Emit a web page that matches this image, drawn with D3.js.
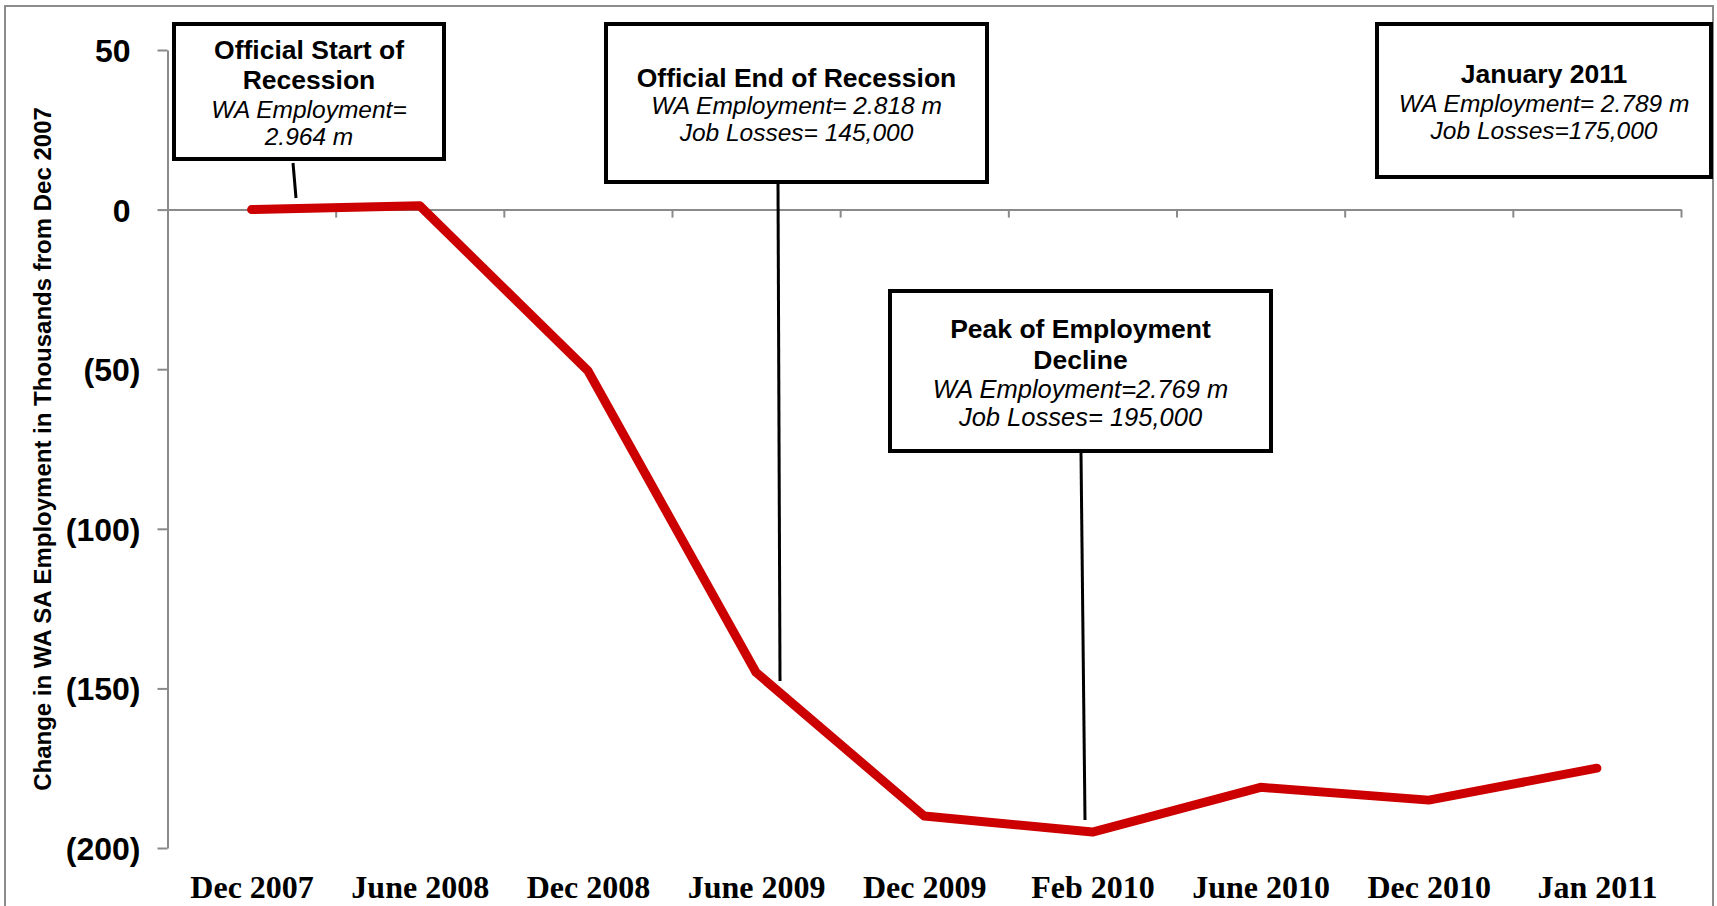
<!DOCTYPE html>
<html><head><meta charset="utf-8">
<script src="https://cdn.jsdelivr.net/npm/d3@7"></script>
<style>body{margin:0;background:#fff;overflow:hidden} svg{display:block}</style>
</head><body><svg id="c" width="1717" height="906"></svg>
<script>
// ---- data ----
const categories = ["Dec 2007","June 2008","Dec 2008","June 2009","Dec 2009","Feb 2010","June 2010","Dec 2010","Jan 2011"];
const changeThousands = [0, 1.2, -50.5, -145, -190, -195, -181, -185, -175];
const yTicks = [50, 0, -50, -100, -150, -200];
const yTitle = "Change in WA SA Employment in Thousands from Dec 2007";
const annoTitles = [["Official Start of","Recession"],["Official End of Recession"],["Peak of Employment","Decline"],["January 2011"]];
const annoDetails = [["WA Employment=","2.964 m"],["WA Employment= 2.818 m","Job Losses= 145,000"],["WA Employment=2.769 m","Job Losses= 195,000"],["WA Employment= 2.789 m","Job Losses=175,000"]];

// ---- layout ----
const W = 1717, H = 906;
const plot = {left: 167.5, right: 1681, top: 50, bottom: 848};
const boxes = [
  {x:174, y:24, w:270, h:135, titleY:[59,89], detY:[118,145], detSize:24.5, leader:[293,163,296,198]},
  {x:606, y:24, w:381, h:158, titleY:[87], detY:[114,141], detSize:24.5, leader:[778,182,780,681]},
  {x:890, y:291, w:381, h:160, titleY:[338,369], detY:[398,426], detSize:25.5, leader:[1081,453,1085,820]},
  {x:1377, y:24, w:334, h:153, titleY:[83], detY:[112,139], detSize:24.5, leader:null}
];

const svg = d3.select("#c");
svg.append("rect").attr("width",W).attr("height",H).attr("fill","#fff");
svg.append("rect").attr("x",5).attr("y",6).attr("width",1708).attr("height",920)
  .attr("fill","none").attr("stroke","#8c8c8c").attr("stroke-width",2);

const y = d3.scaleLinear().domain([-200,50]).range([plot.bottom, plot.top]);
const x = d3.scalePoint().domain(categories).range([plot.left, plot.right]).padding(0.5);
const xb = d3.scaleLinear().domain([0, categories.length]).range([plot.left, plot.right]);

// y axis
const yAxis = svg.append("g").attr("transform",`translate(${plot.left},0)`)
  .call(d3.axisLeft(y).tickValues(yTicks).tickSize(10).tickSizeOuter(0)
    .tickFormat(v => v < 0 ? `(${Math.abs(v)})` : `${v}`));
yAxis.selectAll("path,line").attr("stroke","#8a8a8a").attr("stroke-width",2);
yAxis.selectAll("text")
  .attr("x", d => d < 0 ? -27 : -37)
  .attr("dy","0.36em")
  .style("font-family","'Liberation Sans', Arial, sans-serif")
  .style("font-weight","bold").style("font-size","32px").attr("fill","#000");

// zero line with category boundary ticks
const zAxis = svg.append("g").attr("transform",`translate(0,${y(0)})`)
  .call(d3.axisBottom(xb).tickValues(d3.range(1, categories.length+1)).tickSize(8).tickSizeOuter(0).tickFormat(""));
zAxis.selectAll("path,line").attr("stroke","#8a8a8a").attr("stroke-width",2);

// category labels
const xAxis = svg.append("g").attr("transform",`translate(0,${H})`)
  .call(d3.axisBottom(x).tickSize(0));
xAxis.select(".domain").remove();
xAxis.selectAll("text").attr("y",0).attr("dy","-8px")
  .style("font-family","'Liberation Serif', 'Times New Roman', serif")
  .style("font-weight","bold").style("font-size","32px").attr("fill","#000");

// y title
svg.append("text").attr("transform",`translate(51,449) rotate(-90)`)
  .attr("text-anchor","middle")
  .style("font-family","'Liberation Sans', Arial, sans-serif")
  .style("font-weight","bold").style("font-size","24px").text(yTitle);

// line
const line = d3.line().x((d,i)=>x(categories[i])).y(d=>y(d));
svg.append("path").datum(changeThousands).attr("d",line)
  .attr("fill","none").attr("stroke","#CC0000").attr("stroke-width",9)
  .attr("stroke-linecap","round").attr("stroke-linejoin","round");

// annotations
boxes.forEach((b,i)=>{
  const g = svg.append("g");
  if (b.leader) g.append("line").attr("x1",b.leader[0]).attr("y1",b.leader[1])
      .attr("x2",b.leader[2]).attr("y2",b.leader[3]).attr("stroke","#000").attr("stroke-width",3);
  g.append("rect").attr("x",b.x).attr("y",b.y).attr("width",b.w).attr("height",b.h)
    .attr("fill","#fff").attr("stroke","#000").attr("stroke-width",4);
  const cx = b.x + b.w/2;
  annoTitles[i].forEach((t,j)=>{
    g.append("text").attr("x",cx).attr("y",b.titleY[j]).attr("text-anchor","middle")
      .style("font-family","'Liberation Sans', Arial, sans-serif").style("font-weight","bold")
      .style("font-size","26.5px").text(t);
  });
  annoDetails[i].forEach((t,j)=>{
    g.append("text").attr("x",cx).attr("y",b.detY[j]).attr("text-anchor","middle")
      .style("font-family","'Liberation Sans', Arial, sans-serif").style("font-style","italic")
      .style("font-size",b.detSize+"px").text(t);
  });
});
</script></body></html>
